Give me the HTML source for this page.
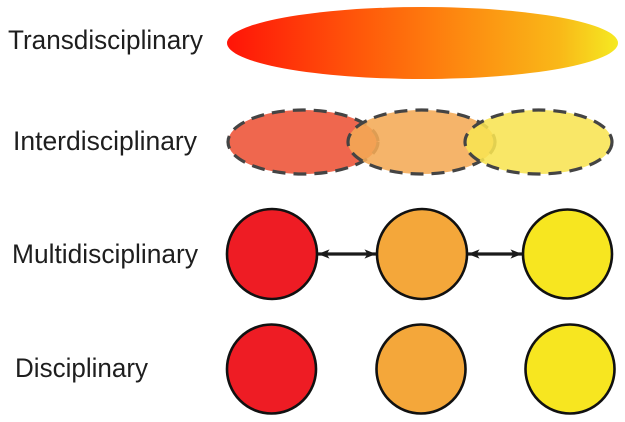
<!DOCTYPE html>
<html>
<head>
<meta charset="utf-8">
<style>
  html, body { margin:0; padding:0; background:#fff; }
  body { width:625px; height:422px; overflow:hidden; }
  svg { display:block; }
  text { font-family: "Liberation Sans", Arial, sans-serif; font-size:27px; fill:#1e1e1e; }
</style>
</head>
<body>
<svg width="625" height="422" viewBox="0 0 625 422" xmlns="http://www.w3.org/2000/svg">
  <defs>
    <linearGradient id="g1" x1="227" y1="0" x2="618" y2="0" gradientUnits="userSpaceOnUse">
      <stop offset="0" stop-color="#ff1408"/>
      <stop offset="0.35" stop-color="#ff5a0a"/>
      <stop offset="0.6" stop-color="#fd8a10"/>
      <stop offset="0.85" stop-color="#f9b818"/>
      <stop offset="1" stop-color="#f5ea22"/>
    </linearGradient>
    <marker id="ah" viewBox="0 0 10 8" refX="10" refY="4" markerWidth="3.6" markerHeight="3.0" orient="auto-start-reverse" markerUnits="strokeWidth">
      <path d="M0,0 L10,4 L0,8 L2.5,4 Z" fill="#1a1a1a"/>
    </marker>
  </defs>

  <!-- Labels -->
  <text x="8" y="49" textLength="195" lengthAdjust="spacingAndGlyphs">Transdisciplinary</text>
  <text x="13" y="150" textLength="184" lengthAdjust="spacingAndGlyphs">Interdisciplinary</text>
  <text x="12" y="263" textLength="186" lengthAdjust="spacingAndGlyphs">Multidisciplinary</text>
  <text x="15" y="377" textLength="133" lengthAdjust="spacingAndGlyphs">Disciplinary</text>

  <!-- Transdisciplinary -->
  <ellipse cx="422.5" cy="43" rx="195.5" ry="36" fill="url(#g1)"/>

  <!-- Interdisciplinary -->
  <g stroke="#444" stroke-width="3.2" stroke-dasharray="13 8">
    <ellipse cx="303" cy="142" rx="75" ry="32" fill="#ee5f44" fill-opacity="0.95"/>
    <ellipse cx="421.5" cy="142" rx="73.5" ry="32" fill="#f4aa55" fill-opacity="0.88"/>
    <ellipse cx="538.5" cy="142" rx="73.5" ry="32" fill="#f8e452" fill-opacity="0.88"/>
  </g>

  <!-- Multidisciplinary -->
  <g stroke="#111" stroke-width="2.6">
    <circle cx="272" cy="254" r="45" fill="#ee1c24"/>
    <circle cx="422" cy="254" r="45" fill="#f4a73a"/>
    <circle cx="567.5" cy="254" r="44.5" fill="#f7e620"/>
  </g>
  <g stroke="#1a1a1a" stroke-width="3.2" fill="none">
    <line x1="318" y1="254" x2="376" y2="254" marker-start="url(#ah)" marker-end="url(#ah)"/>
    <line x1="468" y1="254" x2="522" y2="254" marker-start="url(#ah)" marker-end="url(#ah)"/>
  </g>

  <!-- Disciplinary -->
  <g stroke="#111" stroke-width="2.6">
    <circle cx="271.5" cy="369" r="44.5" fill="#ee1c24"/>
    <circle cx="421" cy="369" r="44.5" fill="#f4a73a"/>
    <circle cx="570" cy="369" r="44.5" fill="#f7e620"/>
  </g>
</svg>
</body>
</html>
